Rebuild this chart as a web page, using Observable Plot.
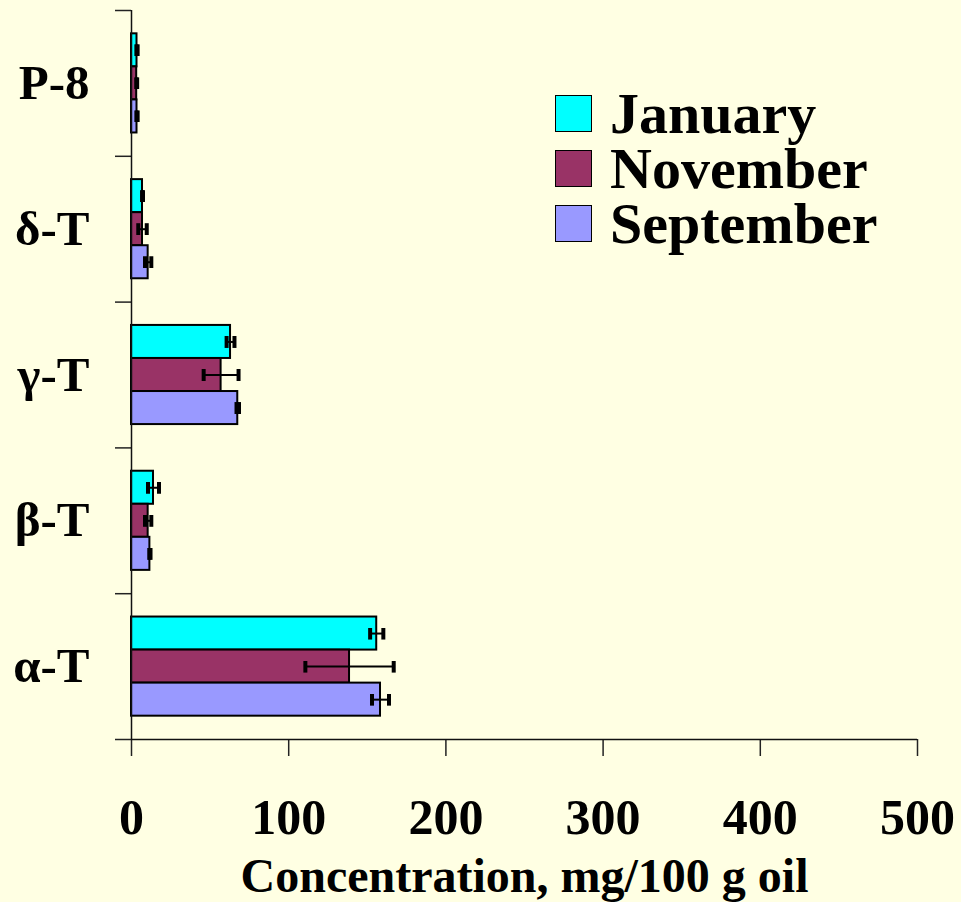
<!DOCTYPE html>
<html>
<head>
<meta charset="utf-8">
<script src="https://cdn.jsdelivr.net/npm/d3@7"></script>
<script src="https://cdn.jsdelivr.net/npm/@observablehq/plot@0.6"></script>
<style>
  body { margin: 0; background: #FFFFE3; }
  #chart {
    position: relative; width: 961px; height: 902px;
    font-family: "Liberation Serif", "Times New Roman", serif; font-weight: bold;
  }
  .swatch { position: absolute; width: 35px; height: 35px; border: 1.5px solid #000; }
  .labels { position: absolute; left: 610px; top: 86px; font-size: 58px; line-height: 55px; color: #000; white-space: nowrap; }
</style>
</head>
<body>
<div id="chart"></div>
<script>
// Tocopherol classes, listed top to bottom
const categories = ["P-8", "δ-T", "γ-T", "β-T", "α-T"];
// Sampling months, listed top to bottom within each group
const months = ["January", "November", "September"];
// Mean concentration (mg/100 g oil) per class
const january = [3.5, 7.0, 63.0, 14.0, 156.0];
const november = [3.3, 7.0, 57.0, 10.6, 138.7];
const september = [3.5, 10.6, 67.6, 11.7, 158.4];
// Standard deviations
const januaryErr = [0.4, 0.3, 2.5, 3.5, 4.2];
const novemberErr = [0.3, 2.7, 11.1, 2.0, 28.1];
const septemberErr = [0.4, 2.0, 0.8, 0.4, 5.4];
// Axis ticks
const xTicks = [0, 100, 200, 300, 400, 500];
const xTitle = "Concentration, mg/100 g oil";

const colors = ["#00FFFF", "#993366", "#9999FF"];
const values = [january, november, september];
const errors = [januaryErr, novemberErr, septemberErr];

// Each group occupies one unit of the y scale; bars sit inside with an inset
const groupInset = 0.16;
const barStep = (1 - 2 * groupInset) / months.length;

const rows = categories.flatMap((c, i) =>
  months.map((m, k) => {
    const y1 = i + groupInset + k * barStep;
    return {
      category: c, month: m,
      value: values[k][i], err: errors[k][i],
      y1, y2: y1 + barStep, ym: y1 + barStep / 2
    };
  })
);

const font = '"Liberation Serif", "Times New Roman", serif';

const plot = Plot.plot({
  width: 961,
  height: 902,
  marginLeft: 131,
  marginRight: 44,
  marginTop: 10,
  marginBottom: 163,
  style: { background: "transparent", fontFamily: font, fontWeight: "bold", color: "#000" },
  x: { domain: [0, 500] },
  y: { domain: [0, categories.length], reverse: true },
  color: { domain: months, range: colors },
  marks: [
    Plot.rectX(rows, {
      x1: 0, x2: "value", y1: "y1", y2: "y2",
      fill: "month", stroke: "#000", strokeWidth: 2
    }),
    Plot.link(rows, {
      x1: d => d.value - d.err, x2: d => d.value + d.err,
      y1: "ym", y2: "ym",
      stroke: "#000", strokeWidth: 2,
      markerStart: "tick", markerEnd: "tick"
    }),
    // category boundary ticks
    Plot.axisY({
      ticks: d3.range(categories.length + 1), tickFormat: () => "",
      tickSize: 16, stroke: "#222", strokeWidth: 1.5
    }),
    // category names at group centres
    Plot.axisY({
      ticks: categories.map((_, i) => i + 0.5), tickFormat: t => categories[Math.floor(t)],
      tickSize: 0, tickPadding: 42, fontSize: 49, fontWeight: "bold", fontFamily: font,
      label: null
    }),
    Plot.axisX({
      ticks: xTicks, tickFormat: d => String(d),
      tickSize: 17, tickPadding: 42, fontSize: 50, fontWeight: "bold", fontFamily: font,
      stroke: "#222", strokeWidth: 1.5, label: null
    }),
    Plot.ruleX([0], { stroke: "#111", strokeWidth: 1.5 }),
    Plot.ruleY([categories.length], { stroke: "#111", strokeWidth: 1.5 }),
    Plot.text([xTitle], {
      frameAnchor: "bottom", dy: 152, lineAnchor: "bottom",
      fontSize: 48, fontWeight: "bold", fontFamily: font, fill: "#000"
    })
  ]
});

const chart = document.getElementById("chart");
chart.appendChild(plot);

// Legend placed inside the plot area, upper right
months.forEach((m, k) => {
  const sw = document.createElement("div");
  sw.className = "swatch";
  sw.style.left = "555px";
  sw.style.top = (95 + 55 * k) + "px";
  sw.style.background = colors[k];
  chart.appendChild(sw);
});
const labels = document.createElement("div");
labels.className = "labels";
months.forEach((m, k) => {
  if (k > 0) labels.appendChild(document.createElement("br"));
  labels.appendChild(document.createTextNode(m));
});
chart.appendChild(labels);
</script>
</body>
</html>
